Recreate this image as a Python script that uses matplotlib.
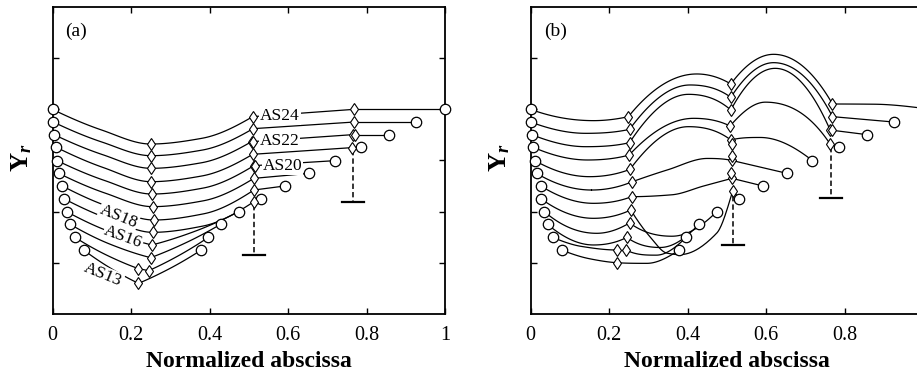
import numpy as np
import matplotlib
matplotlib.use("Agg")
import matplotlib.pyplot as plt

plt.rcParams['font.family'] = ['Liberation Serif', 'DejaVu Serif']
plt.rcParams['mathtext.fontset'] = 'custom'
plt.rcParams['mathtext.rm'] = 'Liberation Serif'
plt.rcParams['mathtext.bf'] = 'Liberation Serif:bold'
plt.rcParams['mathtext.it'] = 'Liberation Serif:italic'
plt.rcParams['mathtext.bfit'] = 'Liberation Serif:italic:bold'

# ---------------- data ----------------
LABELS = ["AS24", "AS23", "AS22", "AS21", "AS20", "AS19",
          "AS18", "AS17", "AS16", "AS15", "AS14", "AS13"]
XTICKS = [0, 0.2, 0.4, 0.6, 0.8, 1.0]
XTICKLABELS_A = ["0", "0.2", "0.4", "0.6", "0.8", "1"]
XTICKLABELS_B = ["0", "0.2", "0.4", "0.6", "0.8", ""]   # "1" falls outside the picture
YTICKS = [1, 2, 3, 4, 5]

# knot kinds: o = circle (end point), D = diamond (kink), s = diamond (smooth), . = line point
A_X = [
    [0.000, 0.125, 0.250, 0.380, 0.510, 0.769, 1.000],
    [0.002, 0.126, 0.251, 0.381, 0.511, 0.769, 0.925],
    [0.004, 0.128, 0.251, 0.379, 0.507, 0.765, 0.856],
    [0.008, 0.130, 0.251, 0.380, 0.510, 0.762, 0.786],
    [0.012, 0.133, 0.253, 0.383, 0.513, 0.720],
    [0.016, 0.135, 0.255, 0.384, 0.513, 0.654],
    [0.025, 0.140, 0.258, 0.385, 0.513, 0.592],
    [0.029, 0.142, 0.255, 0.384, 0.513, 0.532],
    [0.036, 0.145, 0.253, 0.364, 0.474],
    [0.045, 0.148, 0.250, 0.339, 0.428],
    [0.057, 0.138, 0.219, 0.245, 0.321, 0.397],
    [0.079, 0.149, 0.219, 0.299, 0.379],
]
A_Y = [
    [4.000, 3.596, 3.322, 3.433, 3.857, 4.000, 4.000],
    [3.752, 3.360, 3.094, 3.203, 3.622, 3.752, 3.752],
    [3.505, 3.113, 2.847, 2.955, 3.368, 3.505, 3.505],
    [3.264, 2.860, 2.586, 2.697, 3.121, 3.251, 3.264],
    [2.997, 2.608, 2.345, 2.460, 2.899, 2.997],
    [2.749, 2.360, 2.098, 2.212, 2.651, 2.749],
    [2.502, 2.106, 1.837, 1.958, 2.423, 2.502],
    [2.254, 1.862, 1.596, 1.720, 2.195, 2.254],
    [2.000, 1.610, 1.349, 1.620, 2.000],
    [1.752, 1.360, 1.101, 1.390, 1.752],
    [1.498, 1.150, 0.886, 0.847, 1.140, 1.498],
    [1.251, 0.890, 0.599, 0.890, 1.251],
]
A_K = ["o.s.DDo", "o.s.DDo", "o.s.DDo", "o.s.DDo", "o.s.Do", "o.s.Do",
       "o.s.Do", "o.s.Do", "o.D.o", "o.D.o", "o.DD.o", "o.D.o"]
A_EXTRA_X = [0.512, 0.770, 0.517]
A_EXTRA_Y = [3.368, 3.505, 2.899]

B_X = [
    [0.000, 0.160, 0.249, 0.423, 0.510, 0.619, 0.769, 0.875, 1.000],
    [0.000, 0.140, 0.252, 0.406, 0.510, 0.619, 0.769, 0.925],
    [0.003, 0.140, 0.252, 0.402, 0.510, 0.623, 0.763, 0.857],
    [0.005, 0.145, 0.251, 0.415, 0.508, 0.598, 0.763, 0.785],
    [0.011, 0.150, 0.253, 0.402, 0.510, 0.585, 0.718],
    [0.015, 0.155, 0.257, 0.350, 0.450, 0.513, 0.653],
    [0.026, 0.160, 0.257, 0.360, 0.440, 0.513, 0.592],
    [0.026, 0.160, 0.255, 0.304, 0.347, 0.380, 0.474, 0.515, 0.532],
    [0.035, 0.168, 0.252, 0.360, 0.474],
    [0.043, 0.160, 0.245, 0.330, 0.428],
    [0.056, 0.130, 0.219, 0.243, 0.320, 0.396],
    [0.079, 0.150, 0.219, 0.296, 0.379],
]
B_Y = [
    [4.000, 3.779, 3.857, 4.691, 4.495, 5.075, 4.104, 4.100, 4.020],
    [3.752, 3.531, 3.609, 4.476, 4.235, 4.912, 3.857, 3.752],
    [3.505, 3.270, 3.349, 4.293, 3.987, 4.801, 3.596, 3.505],
    [3.264, 3.010, 3.107, 3.824, 3.674, 4.140, 3.322, 3.264],
    [2.997, 2.684, 2.827, 3.661, 3.401, 3.450, 2.997],
    [2.749, 2.423, 2.580, 2.820, 3.040, 3.000, 2.749],
    [2.502, 2.163, 2.293, 2.330, 2.500, 2.651, 2.502],
    [2.254, 1.870, 2.033, 1.510, 1.190, 1.160, 1.580, 2.410, 2.254],
    [2.000, 1.577, 1.780, 1.520, 2.000],
    [1.752, 1.349, 1.498, 1.300, 1.752],
    [1.498, 1.320, 1.251, 1.251, 1.150, 1.498],
    [1.251, 1.080, 1.003, 0.990, 1.251],
]
B_K = ["o.D.D.D.o", "o.D.D.Do", "o.D.D.Do", "o.D.D.Do", "o.D.D.o", "o.D..Do",
       "o.D..Do", "o.D....Do", "o.D.o", "o.D.o", "o.DD.o", "o.D.o"]
B_EXTRA_X = [0.768, 0.514, 0.513, 0.511]
B_EXTRA_Y = [3.600, 3.322, 3.088, 2.762]

# dashed markers (x, top, bottom, bar half-width)
A_BAR_X = [0.513, 0.765]
A_BAR_TOP = [2.13, 3.20]
A_BAR_BOT = [1.153, 2.195]
B_BAR_X = [0.515, 0.765]
B_BAR_TOP = [2.30, 3.27]
B_BAR_BOT = [1.349, 2.261]
BAR_HALF = 0.028

# in-plot labels of panel (a): text, x, y, rotation
A_TXT = ["AS24", "AS22", "AS20", "AS18", "AS16", "AS13"]
A_TXT_X = [0.580, 0.578, 0.586, 0.168, 0.180, 0.129]
A_TXT_Y = [3.870, 3.380, 2.890, 1.900, 1.500, 0.760]
A_TXT_R = [0, 0, 0, -22, -20, -22]


# ---------------- helpers ----------------
def _endslope(h0, h1, d0, d1):
    d = ((2 * h0 + h1) * d0 - h0 * d1) / (h0 + h1)
    if np.sign(d) != np.sign(d0):
        d = 0.0
    elif np.sign(d0) != np.sign(d1) and abs(d) > abs(3 * d0):
        d = 3 * d0
    return d


def pchip(xk, yk, n=30):
    xk = np.asarray(xk, float)
    yk = np.asarray(yk, float)
    if len(xk) == 2:
        return xk, yk
    h = np.diff(xk)
    dl = np.diff(yk) / h
    m = np.zeros(len(xk))
    for i in range(1, len(xk) - 1):
        if dl[i - 1] * dl[i] <= 0:
            m[i] = 0.0
        else:
            w1 = 2 * h[i] + h[i - 1]
            w2 = h[i] + 2 * h[i - 1]
            m[i] = (w1 + w2) / (w1 / dl[i - 1] + w2 / dl[i])
    m[0] = _endslope(h[0], h[1], dl[0], dl[1])
    m[-1] = _endslope(h[-1], h[-2], dl[-1], dl[-2])
    xs, ys = [], []
    for i in range(len(h)):
        t = np.linspace(0, 1, n)
        h00 = 2 * t**3 - 3 * t**2 + 1
        h10 = t**3 - 2 * t**2 + t
        h01 = -2 * t**3 + 3 * t**2
        h11 = t**3 - t**2
        xs.append(xk[i] + t * h[i])
        ys.append(h00 * yk[i] + h10 * h[i] * m[i] + h01 * yk[i + 1] + h11 * h[i] * m[i + 1])
    return np.concatenate(xs), np.concatenate(ys)


def draw_curve(ax, xs, ys, kinds):
    n = len(xs)
    seg = [0]
    for i in range(1, n):
        seg.append(i)
        if kinds[i] in "Do" or i == n - 1:
            if len(seg) >= 2:
                lx, ly = pchip([xs[j] for j in seg], [ys[j] for j in seg])
                ax.plot(lx, ly, color='k', lw=0.9, zorder=2, solid_capstyle='round')
            seg = [i]
    cx = [xs[i] for i in range(n) if kinds[i] == 'o']
    cy = [ys[i] for i in range(n) if kinds[i] == 'o']
    dx = [xs[i] for i in range(n) if kinds[i] in 'Ds']
    dy = [ys[i] for i in range(n) if kinds[i] in 'Ds']
    ax.plot(cx, cy, ls='none', marker='o', ms=7.5, mfc='white', mec='k', mew=0.9,
            zorder=5, clip_on=False)
    ax.plot(dx, dy, ls='none', marker='d', ms=6.5, mfc='white', mec='k', mew=0.8,
            zorder=5, clip_on=False)


def style_axes(ax, ticklabels):
    ax.set_xlim(0, 1)
    ax.set_ylim(0, 6)
    ax.set_xticks(XTICKS)
    ax.set_xticklabels(ticklabels)
    ax.set_yticks(YTICKS)
    ax.set_yticklabels([])
    ax.tick_params(direction='in', top=True, right=True, length=4, width=1,
                   labelsize=14.5, pad=9)
    for s in ax.spines.values():
        s.set_linewidth(1.3)
    ax.set_xlabel('Normalized abscissa', fontsize=17, fontweight='bold', labelpad=4)


def draw_bars(ax, bx, btop, bbot):
    for x, t, b in zip(bx, btop, bbot):
        ax.plot([x, x], [t, b], color='k', lw=1.1, ls=(0, (3.5, 2.0)), zorder=3)
        ax.plot([x - BAR_HALF, x + BAR_HALF], [b, b], color='k', lw=1.6, zorder=3)


# ---------------- figure ----------------
fig = plt.figure(figsize=(9.17, 3.76), dpi=100)
axa = fig.add_axes([0.0573, 0.1649, 0.428, 0.8165])
axb = fig.add_axes([0.5787, 0.1649, 0.428, 0.8165])

style_axes(axa, XTICKLABELS_A)
style_axes(axb, XTICKLABELS_B)

for xs, ys, k in zip(A_X, A_Y, A_K):
    draw_curve(axa, xs, ys, k)
axa.plot(A_EXTRA_X, A_EXTRA_Y, ls='none', marker='d', ms=6.5, mfc='white', mec='k',
         mew=0.8, zorder=5)
draw_bars(axa, A_BAR_X, A_BAR_TOP, A_BAR_BOT)
for t, x, y, r in zip(A_TXT, A_TXT_X, A_TXT_Y, A_TXT_R):
    axa.text(x, y, t, fontsize=12.5, ha='center', va='center', rotation=r,
             rotation_mode='anchor', zorder=4,
             bbox=dict(facecolor='white', edgecolor='none', pad=0.6))

for xs, ys, k in zip(B_X, B_Y, B_K):
    draw_curve(axb, xs, ys, k)
axb.plot(B_EXTRA_X, B_EXTRA_Y, ls='none', marker='d', ms=6.5, mfc='white', mec='k',
         mew=0.8, zorder=5)
draw_bars(axb, B_BAR_X, B_BAR_TOP, B_BAR_BOT)

axa.text(0.059, 0.922, '(a)', transform=axa.transAxes, ha='center', va='center', fontsize=14)
axb.text(0.063, 0.922, '(b)', transform=axb.transAxes, ha='center', va='center', fontsize=14)

for xc in (22 / 917, 500 / 917):
    fig.text(xc, 1 - 158 / 376, r'$\mathbf{Y}_{\mathbfit{r}}$', rotation=90,
             ha='center', va='center', fontsize=19)

fig.savefig('out.png', dpi=100)
